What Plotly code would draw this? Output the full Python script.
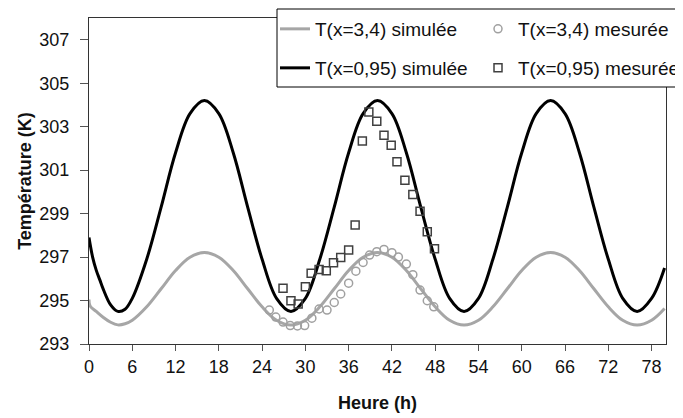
import plotly.graph_objects as go

# Simulated curves
t_black = [0, 0.5, 1, 1.5, 2, 3, 4, 5, 6, 8, 10, 12, 14, 16, 18, 20, 22, 24, 26, 28, 30, 32, 34, 36, 38,
           40, 42, 44, 46, 48, 50, 52, 54, 56, 58, 60, 62, 64, 66, 68, 70, 72, 74, 76, 78, 79.8]
T_black = [297.9, 297.0, 296.4, 295.95, 295.5, 294.8, 294.5, 294.6, 295.1, 296.9, 299.3, 301.8, 303.6, 304.2,
           303.6, 301.8, 299.3, 296.9, 295.1, 294.5, 295.1, 296.9, 299.3, 301.8, 303.6, 304.2, 303.6, 301.8,
           299.3, 296.9, 295.1, 294.5, 295.1, 296.9, 299.3, 301.8, 303.6, 304.2, 303.6, 301.8, 299.3, 296.9,
           295.1, 294.5, 295.1, 296.5]

t_gray = [0, 0.15, 1, 2, 3, 4, 5, 6, 8, 10, 12, 14, 16, 18, 20, 22, 24, 26, 28, 30, 32, 34, 36, 38,
          40, 42, 44, 46, 48, 50, 52, 54, 56, 58, 60, 62, 64, 66, 68, 70, 72, 74, 76, 78, 79.8]
T_gray = [295.05, 294.75, 294.5, 294.22, 294.0, 293.88, 293.93, 294.09, 294.71, 295.54, 296.38, 296.99, 297.21,
          296.99, 296.38, 295.54, 294.71, 294.09, 293.87, 294.09, 294.71, 295.54, 296.38, 296.99, 297.21,
          296.99, 296.38, 295.54, 294.71, 294.09, 293.87, 294.09, 294.71, 295.54, 296.38, 296.99, 297.21,
          296.99, 296.38, 295.54, 294.71, 294.09, 293.87, 294.09, 294.63]

# Measured data
t_circ = [25.0, 25.9, 26.9, 27.9, 28.9, 29.9, 30.9, 31.9, 33.0, 34.0, 34.9, 36.0, 37.0, 38.0, 38.9, 39.9,
          40.9, 42.0, 42.9, 44.0, 44.9, 45.9, 46.9, 47.8]
T_circ = [294.56, 294.24, 294.01, 293.85, 293.83, 293.85, 294.19, 294.61, 294.56, 294.91, 295.30, 295.80,
          296.35, 296.75, 297.09, 297.25, 297.35, 297.20, 297.00, 296.68, 296.19, 295.48, 294.99, 294.71]

t_sq = [26.9, 28.0, 29.0, 30.0, 30.8, 31.9, 32.9, 33.9, 34.9, 36.0, 36.9, 37.9, 38.8, 39.9, 40.9, 41.9,
        42.7, 43.8, 44.9, 45.9, 46.9, 47.9]
T_sq = [295.56, 294.99, 294.84, 295.63, 296.25, 296.43, 296.37, 296.74, 296.98, 297.32, 298.47, 302.34,
        303.68, 303.25, 302.6, 302.15, 301.38, 300.54, 299.88, 299.11, 298.16, 297.38]

x_ticks = list(range(0, 79, 6))
y_ticks = list(range(293, 308, 2))

FONT = "Liberation Sans, Arial, sans-serif"

fig = go.Figure()
fig.add_trace(go.Scatter(x=t_gray, y=T_gray, mode="lines", name="T(x=3,4) simulée",
                         line=dict(color="#a6a6a6", width=3, shape="spline"), legend="legend"))
fig.add_trace(go.Scatter(x=t_black, y=T_black, mode="lines", name="T(x=0,95) simulée",
                         line=dict(color="#000000", width=3, shape="spline"), legend="legend2"))
fig.add_trace(go.Scatter(x=t_circ, y=T_circ, mode="markers", name="T(x=3,4) mesurée",
                         marker=dict(symbol="circle-open", size=8, color="#a0a0a0", line=dict(width=1.5)),
                         legend="legend"))
fig.add_trace(go.Scatter(x=t_sq, y=T_sq, mode="markers", name="T(x=0,95) mesurée",
                         marker=dict(symbol="square-open", size=8, color="#404040", line=dict(width=1.5)),
                         legend="legend2"))

# page body has an 8px margin: figure sized to fit the window
OFF = 8
W, H = 683 - OFF, 418 - OFF
L, R, T, B = 89 - OFF, 17, 18 - OFF, 74
pw, ph = W - L - R, H - T - B

def px(xp):
    return (xp - OFF - L) / pw

def py(yp):
    return (H - B - (yp - OFF)) / ph

legend_common = dict(orientation="h", xanchor="left", yanchor="top", bgcolor="rgba(0,0,0,0)",
                     borderwidth=0, font=dict(family=FONT, size=19, color="#111"),
                     entrywidth=158, entrywidthmode="pixels", itemclick=False)
fig.update_layout(
    width=W, height=H,
    margin=dict(l=L, r=R, t=T, b=B, autoexpand=False),
    paper_bgcolor="white", plot_bgcolor="white",
    font=dict(family=FONT, size=18, color="#111"),
    legend=dict(x=px(275), y=py(10), **legend_common),
    legend2=dict(x=px(275), y=py(49), **legend_common),
    shapes=[dict(type="rect", xref="paper", yref="paper", x0=px(277), x1=px(681), y0=py(87), y1=py(9),
                 line=dict(color="#000", width=1), fillcolor="white", layer="above")],
)
fig.update_xaxes(range=[0, 80], tickvals=x_ticks, ticks="outside", ticklen=6, tickcolor="#555",
                 showline=True, linecolor="#333", linewidth=1, mirror=True, showgrid=False, zeroline=False,
                 tickfont=dict(family=FONT, size=18, color="#111"),
                 title=dict(text="Heure (h)", font=dict(family=FONT, size=18, color="#111", weight="bold"),
                            standoff=20))
fig.update_yaxes(range=[293, 308], tickvals=y_ticks, ticks="outside", ticklen=8, tickcolor="#555",
                 showline=True, linecolor="#333", linewidth=1, mirror=True, showgrid=False, zeroline=False,
                 tickfont=dict(family=FONT, size=18, color="#111"), ticklabelstandoff=7,
                 title=dict(text="Température (K)", font=dict(family=FONT, size=18, color="#111", weight="bold"),
                            standoff=3))

fig.write_html("out.html")
